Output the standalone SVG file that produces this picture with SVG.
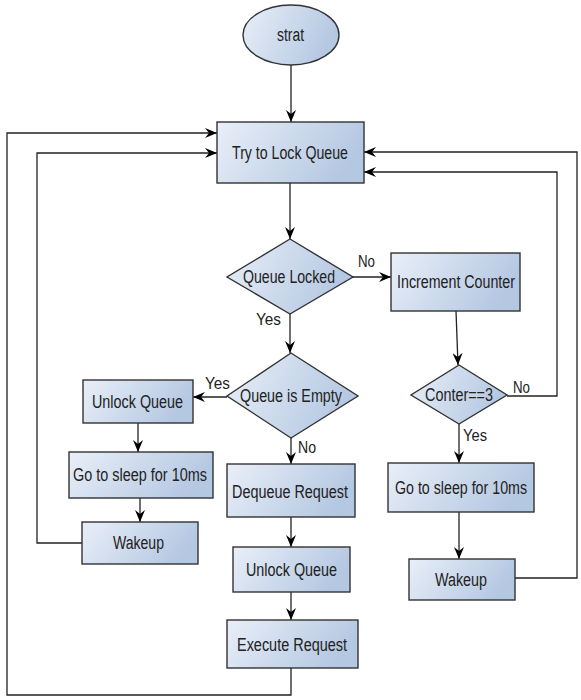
<svg xmlns="http://www.w3.org/2000/svg" width="581" height="700" viewBox="0 0 581 700">
<style>
.n{fill:url(#g);stroke:#333;stroke-width:1.4}
.t{font-family:"Liberation Sans",Arial,sans-serif;font-size:18px;fill:#222;text-anchor:middle;dominant-baseline:central}
.l{font-family:"Liberation Sans",Arial,sans-serif;font-size:16px;fill:#222}
.e{fill:none;stroke:#222;stroke-width:1.3}
</style>
<defs>
<linearGradient id="g" x1="0" y1="0" x2="1" y2="0.3">
<stop offset="0" stop-color="#e9eff8"/>
<stop offset="1" stop-color="#b5c8e2"/>
</linearGradient>
<marker id="a" viewBox="0 0 12 10" refX="12" refY="5" markerWidth="12" markerHeight="10" markerUnits="userSpaceOnUse" orient="auto">
<path d="M0,0 L12,5 L0,10 L4,5 z" fill="#000"/>
</marker>
</defs>
<g id="connectors">
<path class="e" d="M291,65 V122" marker-end="url(#a)"/>
<path class="e" d="M290,183 V239" marker-end="url(#a)"/>
<path class="e" d="M290,314 V353" marker-end="url(#a)"/>
<path class="e" d="M353,277 H391" marker-end="url(#a)"/>
<path class="e" d="M456,311 L458,365" marker-end="url(#a)"/>
<path class="e" d="M507,396 H557 V172 H364" marker-end="url(#a)"/>
<path class="e" d="M459,424 V463" marker-end="url(#a)"/>
<path class="e" d="M459,512 V559" marker-end="url(#a)"/>
<path class="e" d="M515,578 H577 V152 H364" marker-end="url(#a)"/>
<path class="e" d="M227,397 H193" marker-end="url(#a)"/>
<path class="e" d="M138,423 V452" marker-end="url(#a)"/>
<path class="e" d="M140,498 V522" marker-end="url(#a)"/>
<path class="e" d="M82,543 H37 V153 H217" marker-end="url(#a)"/>
<path class="e" d="M291,438 V464" marker-end="url(#a)"/>
<path class="e" d="M291,517 V547" marker-end="url(#a)"/>
<path class="e" d="M291,592 V620" marker-end="url(#a)"/>
<path class="e" d="M291,668 V695 H7 V133 H217" marker-end="url(#a)"/>
<text class="l" x="358" y="267" textLength="17" lengthAdjust="spacingAndGlyphs">No</text>
<text class="l" x="256" y="325" textLength="25" lengthAdjust="spacingAndGlyphs">Yes</text>
<text class="l" x="205" y="389" textLength="25" lengthAdjust="spacingAndGlyphs">Yes</text>
<text class="l" x="298" y="453" textLength="18" lengthAdjust="spacingAndGlyphs">No</text>
<text class="l" x="513" y="393" textLength="17" lengthAdjust="spacingAndGlyphs">No</text>
<text class="l" x="463" y="441" textLength="24" lengthAdjust="spacingAndGlyphs">Yes</text>
</g>
<g id="start"><ellipse class="n" cx="291" cy="35" rx="48" ry="30"/><text class="t" x="290.5" y="35" textLength="27" lengthAdjust="spacingAndGlyphs">strat</text></g>
<g id="trylock"><rect class="n" x="217" y="122" width="147" height="61"/><text class="t" x="290" y="153" textLength="116" lengthAdjust="spacingAndGlyphs">Try to Lock Queue</text></g>
<g id="queuelocked"><path class="n" d="M290,239 L353,277 L290,314 L227,277 Z"/><text class="t" x="289" y="277" textLength="92" lengthAdjust="spacingAndGlyphs">Queue Locked</text></g>
<g id="increment"><rect class="n" x="391" y="253" width="129" height="58"/><text class="t" x="456" y="282" textLength="118" lengthAdjust="spacingAndGlyphs">Increment Counter</text></g>
<g id="conter"><path class="n" d="M459,365 L507,395 L459,424 L411,395 Z"/><text class="t" x="459" y="395" textLength="68" lengthAdjust="spacingAndGlyphs">Conter==3</text></g>
<g id="sleep2"><rect class="n" x="388" y="463" width="146" height="49"/><text class="t" x="461" y="488" textLength="132" lengthAdjust="spacingAndGlyphs">Go to sleep for 10ms</text></g>
<g id="wakeup2"><rect class="n" x="409" y="559" width="106" height="41"/><text class="t" x="461" y="580" textLength="52" lengthAdjust="spacingAndGlyphs">Wakeup</text></g>
<g id="queueempty"><path class="n" d="M291,353 L358,396 L291,438 L227,396 Z"/><text class="t" x="291" y="396" textLength="102" lengthAdjust="spacingAndGlyphs">Queue is Empty</text></g>
<g id="unlock1"><rect class="n" x="83" y="380" width="110" height="43"/><text class="t" x="137.5" y="402" textLength="91" lengthAdjust="spacingAndGlyphs">Unlock Queue</text></g>
<g id="sleep1"><rect class="n" x="69" y="452" width="144" height="46"/><text class="t" x="140" y="475" textLength="134" lengthAdjust="spacingAndGlyphs">Go to sleep for 10ms</text></g>
<g id="wakeup1"><rect class="n" x="82" y="522" width="116" height="42"/><text class="t" x="138.5" y="543" textLength="51" lengthAdjust="spacingAndGlyphs">Wakeup</text></g>
<g id="dequeue"><rect class="n" x="227" y="464" width="128" height="53"/><text class="t" x="290" y="492" textLength="116" lengthAdjust="spacingAndGlyphs">Dequeue Request</text></g>
<g id="unlock2"><rect class="n" x="233" y="547" width="117" height="45"/><text class="t" x="291.5" y="570" textLength="91" lengthAdjust="spacingAndGlyphs">Unlock Queue</text></g>
<g id="execute"><rect class="n" x="227" y="620" width="131" height="48"/><text class="t" x="292" y="645" textLength="110" lengthAdjust="spacingAndGlyphs">Execute Request</text></g>
</svg>
